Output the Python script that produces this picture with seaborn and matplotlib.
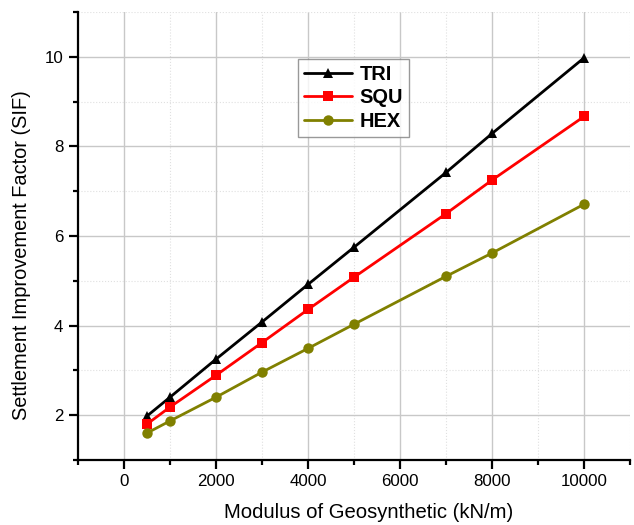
import matplotlib
matplotlib.use("Agg")
import matplotlib.pyplot as plt
import seaborn as sns
import pandas as pd
from matplotlib.ticker import MultipleLocator

modulus = [500, 1000, 2000, 3000, 4000, 5000, 7000, 8000, 10000]
tri = [1.98, 2.40, 3.25, 4.08, 4.92, 5.75, 7.42, 8.29, 9.98]
squ = [1.80, 2.18, 2.89, 3.62, 4.36, 5.08, 6.50, 7.25, 8.67]
hexa = [1.60, 1.87, 2.40, 2.96, 3.49, 4.03, 5.10, 5.62, 6.71]
series_names = ["TRI", "SQU", "HEX"]

df = pd.DataFrame({
    "x": modulus * 3,
    "y": tri + squ + hexa,
    "series": [s for s in series_names for _ in modulus],
})

sns.set_style("white")
plt.rcParams["font.family"] = ["Liberation Sans", "DejaVu Sans"]
plt.rcParams["text.color"] = "black"
plt.rcParams["axes.labelcolor"] = "black"
plt.rcParams["xtick.color"] = "black"
plt.rcParams["ytick.color"] = "black"

fig = plt.figure(figsize=(6.34, 5.25), dpi=100)
ax = fig.add_axes([0.123, 0.124, 0.871, 0.853])

palette = {"TRI": "#000000", "SQU": "#FF0000", "HEX": "#808000"}
markers = {"TRI": "^", "SQU": "s", "HEX": "o"}
sns.lineplot(data=df, x="x", y="y", hue="series", style="series",
             palette=palette, markers=markers, dashes=False,
             linewidth=2, markersize=7.5, markeredgewidth=0, ax=ax,
             hue_order=series_names, style_order=series_names)

ax.set_xlim(-1000, 11000)
ax.set_ylim(1, 11)
ax.xaxis.set_major_locator(MultipleLocator(2000))
ax.xaxis.set_minor_locator(MultipleLocator(1000))
ax.yaxis.set_major_locator(MultipleLocator(2))
ax.yaxis.set_minor_locator(MultipleLocator(1))
ax.grid(True, which="major", color="#c8c8c8", linewidth=1, linestyle="-")
ax.grid(True, which="minor", color="#e0e0e0", linewidth=0.8, linestyle=":")
ax.set_axisbelow(True)

for s in ["top", "right"]:
    ax.spines[s].set_visible(False)
for s in ["left", "bottom"]:
    ax.spines[s].set_color("black")
    ax.spines[s].set_linewidth(1.6)

ax.tick_params(axis="both", which="major", direction="out", length=6.5, width=1.6,
               labelsize=12.2, colors="black", bottom=True, left=True, pad=4)
ax.tick_params(axis="both", which="minor", direction="out", length=3.8, width=1.6,
               colors="black", bottom=True, left=True)

ax.set_xlabel("Modulus of Geosynthetic (kN/m)", fontsize=14.6)
ax.set_ylabel("Settlement Improvement Factor (SIF)", fontsize=14.4)
ax.xaxis.set_label_coords(0.527, -0.097)
ax.yaxis.set_label_coords(-0.085, 0.458)

leg = ax.legend(loc="upper left", bbox_to_anchor=(0.399, 0.895), frameon=True,
                fancybox=False, edgecolor="#808080", handlelength=2.4,
                prop={"weight": "bold", "size": 14.4}, borderpad=0.3,
                labelspacing=0.22, handletextpad=0.35, borderaxespad=0,
                title=None)
leg.get_frame().set_linewidth(1)
for t in leg.get_texts():
    t.set_color("black")

fig.savefig("out.png", dpi=100)
